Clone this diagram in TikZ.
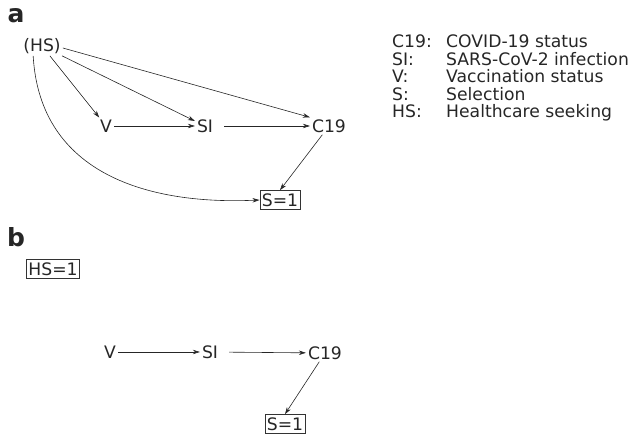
\documentclass[tikz,border=0pt]{standalone}
\usepackage{fontspec}
\setmainfont{DejaVu Sans}
\usetikzlibrary{arrows.meta}
\begin{document}
\begin{tikzpicture}[x=1pt,y=-1pt,
  every node/.style={font=\fontsize{17.2}{18}\selectfont, text=black!85, inner sep=2pt},
  lbl/.style={font=\fontsize{25}{25}\bfseries, inner sep=0pt},
  boxed/.style={draw=black!80, line width=0.7pt, inner sep=2pt, minimum height=19pt},
  arr/.style={line width=0.6pt, draw=black!85, -{Stealth[length=7pt,width=4.5pt]}},
  leg/.style={anchor=base west, inner sep=0pt}
]
\useasboundingbox (0,0) rectangle (635,435);
% panel a
\node[lbl] (la) at (16,16) {a};
\node (HS) at (42,46) {(HS)};
\node (V) at (106,126) {V};
\node (SI) at (205,126) {SI};
\node (C) at (329,126) {C19};
\node[boxed] (S) at (280,200) {S=1};
\draw[arr] (HS) -- (V);
\draw[arr] (HS) -- (SI);
\draw[arr] (HS.east) ++(0,2) coordinate (hse) -- (C.north west);
\draw[arr] (V) -- (SI);
\draw[arr, shorten <=9pt] (SI) -- (C);
\draw[arr] (C) -- (S.north);
\draw[arr] (HS.south west) ++(12,0) coordinate (hss) .. controls (40,175) and (150,205) .. (S.west);
% legend
\node[leg] (k1) at (392,48) {C19:};
\node[leg] (d1) at (446,48) {COVID-19 status};
\node[leg] (k2) at (392,65.4) {SI:};
\node[leg] (d2) at (446,65.4) {SARS-CoV-2 infection};
\node[leg] (k3) at (392,82.8) {V:};
\node[leg] (d3) at (446,82.8) {Vaccination status};
\node[leg] (k4) at (392,100.2) {S:};
\node[leg] (d4) at (446,100.2) {Selection};
\node[leg] (k5) at (392,117.6) {HS:};
\node[leg] (d5) at (446,117.6) {Healthcare seeking};
% panel b
\node[lbl] (lb) at (16,237) {b};
\node[boxed] (HSb) at (53,269) {HS=1};
\node (Vb) at (110,352) {V};
\node (SIb) at (210,352) {SI};
\node (Cb) at (325,353) {C19};
\node[boxed] (Sb) at (285,424) {S=1};
\draw[arr] (Vb) -- (SIb);
\draw[arr, shorten <=9pt] (SIb) -- (Cb);
\draw[arr] (Cb) -- (Sb.north);
\end{tikzpicture}
\end{document}
